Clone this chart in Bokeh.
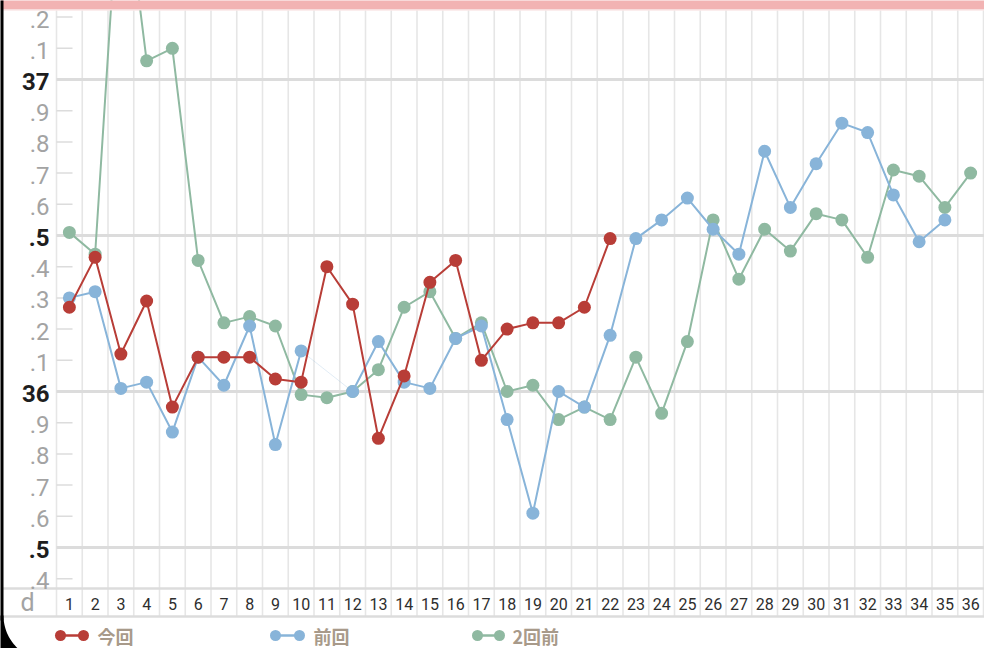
import numpy as np
from bokeh.plotting import figure
from bokeh.models import Range1d
from bokeh.core.properties import value
from bokeh.embed import file_html
from bokeh.resources import INLINE

# ---------------- data ----------------
days_now = list(range(1, 23))
temp_now = [36.27, 36.43, 36.12, 36.29, 35.95, 36.11, 36.11, 36.11, 36.04, 36.03,
            36.40, 36.28, 35.85, 36.05, 36.35, 36.42, 36.10, 36.20, 36.22, 36.22,
            36.27, 36.49]

days_prev = list(range(1, 36))
temp_prev = [36.30, 36.32, 36.01, 36.03, 35.87, 36.11, 36.02, 36.21, 35.83, 36.13,
             None, 36.00, 36.16, 36.03, 36.01, 36.17, 36.21, 35.91, 35.61, 36.00,
             35.95, 36.18, 36.49, 36.55, 36.62, 36.52, 36.44, 36.77, 36.59, 36.73,
             36.86, 36.83, 36.63, 36.48, 36.55]

days_prev2 = list(range(1, 37))
temp_prev2 = [36.51, 36.44, 37.72, 37.06, 37.10, 36.42, 36.22, 36.24, 36.21, 35.99,
              35.98, 36.00, 36.07, 36.27, 36.32, 36.17, 36.22, 36.00, 36.02, 35.91,
              35.95, 35.91, 36.11, 35.93, 36.16, 36.55, 36.36, 36.52, 36.45, 36.57,
              36.55, 36.43, 36.71, 36.69, 36.59, 36.70]

series_names = ["今回", "前回", "2回前"]
series_colors = ["#b83d37", "#88b4d9", "#8fb9a1"]

day_labels = [str(d) for d in range(1, 38)]
y_ticks = [round(35.4 + 0.1 * i, 1) for i in range(19)]       # 35.4 .. 37.2
y_major = [35.5, 36.0, 36.5, 37.0]

# ---------------- layout helpers (screen pixel -> data) ----------------
W, H = 984, 648
def X(px):
    return 0.5 + (px - 56) / 25.75
def Y(py):
    return 36 + (391 - py) / 312.0

p = figure(width=W, height=H, output_backend="svg", toolbar_location=None,
           x_range=Range1d(X(0), X(W)), y_range=Range1d(Y(H), Y(0)),
           x_axis_type=None, y_axis_type=None, min_border=0,
           outline_line_color=None, background_fill_color="white",
           border_fill_color="white")
p.grid.visible = False

GRID = "#e6e6e6"
RULE = "#dcdcdc"

# vertical cell lines (plot + label row)
xs = [d + 0.5 for d in range(0, 38)]
p.segment(x0=xs, y0=Y(10), x1=xs, y1=Y(616), line_color=GRID, line_width=1.6)

# major horizontal lines
p.segment(x0=0.5, x1=X(1010), y0=y_major, y1=y_major, line_color=RULE, line_width=3)
# minor stubs
minor = [t for t in y_ticks if t not in y_major]
p.segment(x0=0.5, x1=X(72), y0=minor, y1=minor, line_color=RULE, line_width=1.5)
# axis / label row lines
p.segment(x0=X(0), x1=X(1010), y0=[Y(588), Y(616)], y1=[Y(588), Y(616)],
          line_color=RULE, line_width=2.5)

# y labels
def ylab(t):
    if t in (36.0, 37.0):
        return str(int(t))
    return "." + str(int(round(t * 10)) % 10)
minor_txt = [ylab(t) for t in minor]
major_txt = [ylab(t) for t in y_major]
p.text(x=X(49), y=minor, text=minor_txt, text_align="right", text_baseline="middle",
       text_font=value("Roboto"), text_font_size="24px", text_color="#a3a3a3", y_offset=2)
p.text(x=X(49), y=y_major, text=major_txt, text_align="right", text_baseline="middle",
       text_font=value("Roboto"), text_font_size="24px", text_color="#1e1e1e",
       text_font_style="bold", y_offset=2)

# x labels
p.text(x=list(range(1, 38)), y=Y(603), text=day_labels, text_align="center",
       text_baseline="middle", text_font=value("Roboto"), text_font_size="16px",
       text_color="#2e2e2e")
p.text(x=X(27), y=Y(602), text=["d"], text_align="center", text_baseline="middle",
       text_font=value("Roboto"), text_font_size="25px", text_color="#a3a3a3")

# series
def prep(vals):
    return np.array([np.nan if v is None else v for v in vals], dtype=float)

series = [(days_prev2, prep(temp_prev2), series_colors[2]),
          (days_prev, prep(temp_prev), series_colors[1]),
          (days_now, prep(temp_now), series_colors[0])]
for dx, vy, col in series:
    # faint bridge over missing values
    for i in range(1, len(vy) - 1):
        if np.isnan(vy[i]) and not np.isnan(vy[i - 1]) and not np.isnan(vy[i + 1]):
            p.line([dx[i - 1], dx[i + 1]], [vy[i - 1], vy[i + 1]], line_color=col,
                   line_alpha=0.25, line_width=1)
    p.line(dx, vy, line_color=col, line_width=2)
    p.scatter(dx, vy, size=13, fill_color=col, line_color=col, line_width=0)

# legend
leg_y = Y(635)
leg = [(60, 83, 97), (275, 299, 313), (477, 499, 512)]
for (a, b, t), name, col in zip(leg, series_names, series_colors):
    p.line([X(a), X(b)], [leg_y, leg_y], line_color=col, line_width=2.5)
    p.scatter([X(a), X(b)], [leg_y, leg_y], size=11, fill_color=col, line_width=0)
    p.text(x=X(t), y=leg_y, text=[name], text_align="left", text_baseline="middle",
           text_font=value("Noto Sans CJK JP"), text_font_size="18px",
           text_font_style="bold", text_color="#a89a8a")

# phone frame: pink header strip, dark left edge and rounded bottom-left corner
p.quad(left=X(0), right=X(1010), top=Y(-2), bottom=Y(8.5), fill_color="#f2b3b3",
       line_color=None)
p.quad(left=X(0), right=X(1010), top=Y(8.5), bottom=Y(10), fill_color="#f7dcdc",
       line_color=None)
p.quad(left=X(-2), right=X(3), top=Y(-2), bottom=Y(620), fill_color="black",
       line_color=None)
ang = np.linspace(0, np.pi / 2, 40)
cx = list(48 - 45 * np.cos(ang)) + [48, -5, -5]
cy = list(615 + 45 * np.sin(ang)) + [700, 700, 615]
p.patch([X(v) for v in cx], [Y(v) for v in cy], fill_color="black", line_color=None)

open("out.html", "w").write(file_html(p, INLINE))
